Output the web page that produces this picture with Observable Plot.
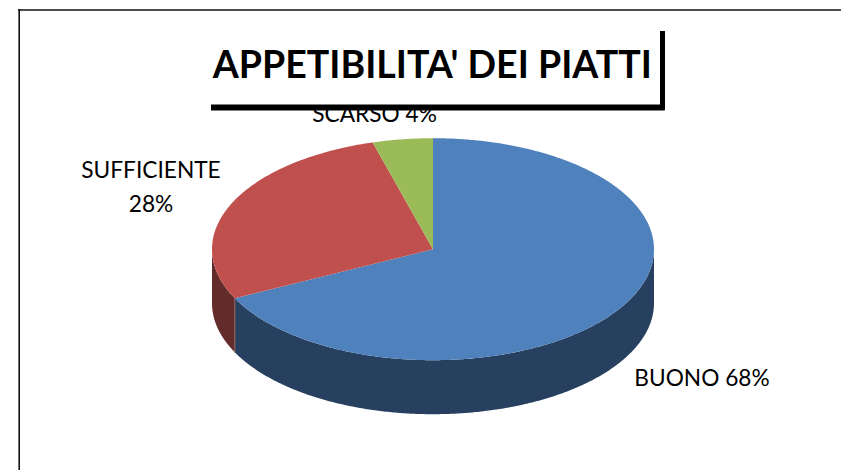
<!DOCTYPE html>
<html><head><meta charset="utf-8">
<script src="https://cdn.jsdelivr.net/npm/d3@7"></script>
<script src="https://cdn.jsdelivr.net/npm/@observablehq/plot@0.6"></script>
<style>html,body{margin:0;padding:0;background:#fff}svg{display:block}</style>
</head><body><div id="chart"></div>
<script>
const categories = ["BUONO", "SUFFICIENTE", "SCARSO"];
const percents = [67.7, 27.9, 4.4];
const topColors = ["#4F81BD", "#C0504D", "#9BBB59"];
const sideColors = ["#284060", "#632B29", "#5C7035"];
const chartTitle = "APPETIBILITA' DEI PIATTI";
const labelLines = [["BUONO 68%"], ["SUFFICIENTE", "28%"], ["SCARSO 4%"]];

const W = 841, H = 470;
const cx = 432.5, cy = 248.7, rx = 221, ry = 111, depth = 54;
const labelAnchors = [[701.5, 378], [150.5, 170], [374, 114]];

const rad = d => d * Math.PI / 180;
const px = a => cx + rx * Math.sin(rad(a));
const py = a => cy - ry * Math.cos(rad(a));

let acc = 0;
const slices = categories.map((name, i) => {
  const start = acc * 3.6; acc += percents[i];
  return {name, start, end: acc * 3.6, i};
});
const step = 0.5;
const arc = (a, b) => {
  const n = Math.max(1, Math.ceil(Math.abs(b - a) / step));
  return d3.range(n + 1).map(k => a + (b - a) * k / n);
};
const wedges = slices.flatMap(s => [
  {x: cx, y: cy, z: s.name},
  ...arc(s.start, s.end).map(a => ({x: px(a), y: py(a), z: s.name})),
  {x: cx, y: cy, z: s.name}
]);
const walls = slices.flatMap(s => {
  const a = Math.max(s.start, 90), b = Math.min(s.end, 270);
  if (b <= a) return [];
  const angs = arc(a, b);
  return [
    ...angs.map(t => ({x: px(t), y: py(t), z: s.name})),
    ...angs.slice().reverse().map(t => ({x: px(t), y: py(t) + depth, z: s.name}))
  ];
});
const seamAngle = slices[0].end;
const seam = [
  {x: px(seamAngle), y: py(seamAngle)},
  {x: px(seamAngle), y: py(seamAngle) + depth}
];
const colorOf = (arr) => d => arr[categories.indexOf(d.z)];

const labelRows = labelLines.flatMap((lines, i) =>
  lines.map((t, j) => ({t, x: labelAnchors[i][0], y: labelAnchors[i][1] + j * 34})));

const plot = Plot.plot({
  width: W, height: H,
  margin: 0,
  style: {background: "#fff", overflow: "hidden"},
  x: {domain: [0, W], range: [0, W], axis: null},
  y: {domain: [0, H], range: [0, H], axis: null},
  marks: [
    Plot.ruleY([9.5], {x1: 18, x2: W, stroke: "#111", strokeWidth: 1.6}),
    Plot.ruleX([18.7], {y1: 9, y2: H, stroke: "#111", strokeWidth: 1.6}),
    Plot.line(walls, {x: "x", y: "y", z: "z", fill: colorOf(sideColors), stroke: "none"}),
    Plot.line(seam, {x: "x", y: "y", stroke: "#8F6462", strokeWidth: 1}),
    Plot.line(wedges, {x: "x", y: "y", z: "z", fill: colorOf(topColors), stroke: "none"}),
    Plot.text(labelRows, {x: "x", y: "y", text: "t", fontFamily: "Lato", fontSize: 22.7, fill: "#000", textAnchor: "middle", lineAnchor: "middle"}),
    Plot.ruleY([107], {x1: 211, x2: 664.5, stroke: "#000", strokeWidth: 6}),
    Plot.ruleX([662], {y1: 31, y2: 110, stroke: "#000", strokeWidth: 5}),
    Plot.text([chartTitle], {x: 431.8, y: 65, text: d => d, fontFamily: "Lato", fontWeight: 700, fontSize: 37.5, fill: "#000", textAnchor: "middle", lineAnchor: "middle"})
  ]
});
document.getElementById("chart").append(plot);
</script></body></html>
